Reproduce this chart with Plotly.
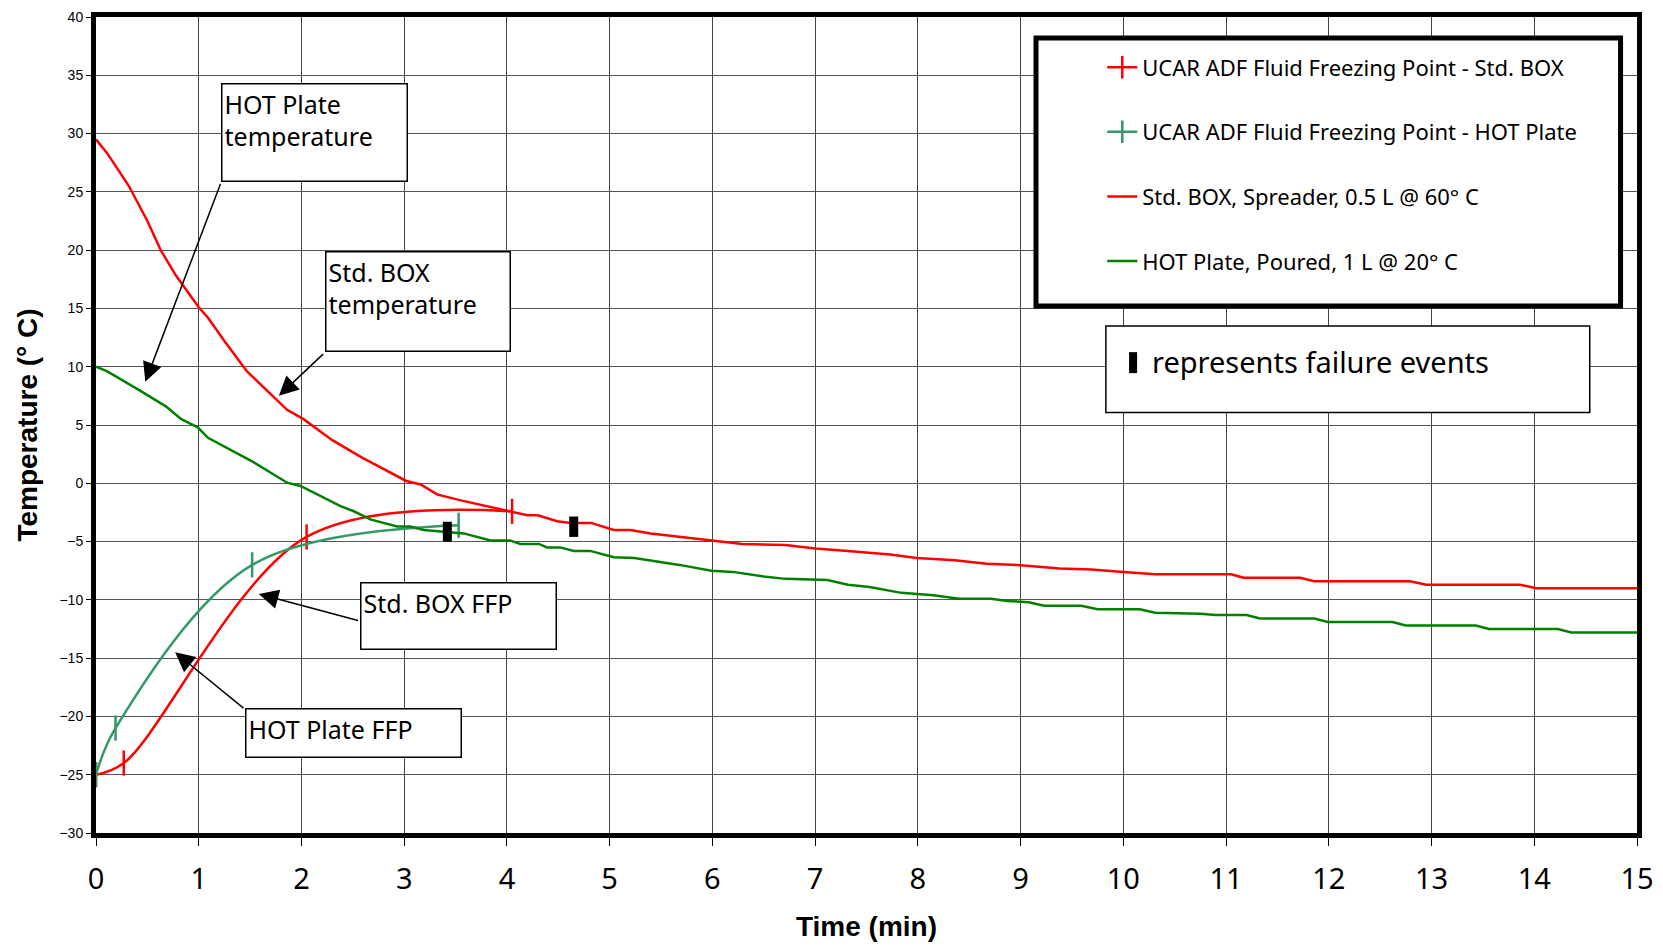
import plotly.graph_objects as go

# ---------------- data ----------------
box_time = [0, 0.11, 0.32, 0.5, 0.63, 0.78, 1.0, 1.09, 1.25, 1.47, 1.66, 1.86, 2.02, 2.17,
            2.30, 2.59, 3.02, 3.16, 3.32, 3.52, 4.04, 4.2, 4.3, 4.49, 4.62, 4.82, 5.04, 5.2,
            5.4, 5.68, 5.99, 6.29, 6.71, 7.0, 7.32, 7.73, 7.99, 8.36, 8.67, 8.97, 9.38, 9.69,
            10.0, 10.31, 10.75, 11.05, 11.17, 11.72, 11.86, 12.79, 12.95, 13.86, 14.02, 15.0]
box_temp = [29.5, 28.3, 25.5, 22.5, 20.0, 17.8, 15.1, 14.2, 12.2, 9.6, 8.0, 6.3, 5.5, 4.5,
            3.7, 2.2, 0.2, -0.1, -0.95, -1.4, -2.4, -2.75, -2.75, -3.26, -3.4, -3.4, -4.0, -4.0,
            -4.3, -4.6, -4.9, -5.2, -5.3, -5.6, -5.8, -6.1, -6.4, -6.6, -6.9, -7.0, -7.3, -7.4,
            -7.6, -7.8, -7.8, -7.8, -8.1, -8.1, -8.4, -8.4, -8.7, -8.7, -9.0, -9.0]

hot_time = [0, 0.11, 0.4, 0.68, 0.83, 0.99, 1.09, 1.51, 1.86, 1.99, 2.38, 2.51, 2.67, 2.93,
            3.06, 3.19, 3.58, 3.84, 4.03, 4.13, 4.31, 4.39, 4.52, 4.65, 4.81, 5.04, 5.24, 5.4,
            5.68, 5.99, 6.2, 6.5, 6.71, 7.12, 7.32, 7.53, 7.84, 8.15, 8.4, 8.71, 8.87, 9.08,
            9.23, 9.59, 9.75, 10.16, 10.31, 10.75, 10.9, 11.2, 11.33, 11.86, 11.99, 12.62,
            12.75, 13.43, 13.56, 14.23, 14.36, 15.0]
hot_temp = [10.0, 9.6, 8.1, 6.6, 5.5, 4.8, 3.9, 1.93, 0.05, -0.23, -1.96, -2.4, -3.1, -3.7,
            -3.7, -4.0, -4.3, -4.9, -4.9, -5.2, -5.2, -5.5, -5.5, -5.8, -5.8, -6.35, -6.4, -6.6,
            -7.0, -7.5, -7.6, -8.0, -8.2, -8.3, -8.7, -8.9, -9.4, -9.6, -9.9, -9.9, -10.1, -10.2,
            -10.5, -10.5, -10.8, -10.8, -11.1, -11.2, -11.3, -11.3, -11.6, -11.6, -11.9, -11.9,
            -12.2, -12.2, -12.5, -12.5, -12.8, -12.8]

box_ffp_time = [0, 0.27, 2.05, 4.05]
box_ffp_temp = [-25, -24, -4.6, -2.4]
hot_ffp_time = [0, 0.19, 1.52, 3.53]
hot_ffp_temp = [-25, -21, -7.0, -3.6]

fail_time = [3.42, 4.65]
fail_top = [-3.3, -2.85]
fail_bottom = [-5.0, -4.6]

x_ticks = list(range(0, 16))
y_ticks = list(range(-30, 41, 5))

names = ["UCAR ADF Fluid Freezing Point - Std. BOX",
         "UCAR ADF Fluid Freezing Point - HOT Plate",
         "Std. BOX, Spreader, 0.5 L @ 60° C",
         "HOT Plate, Poured, 1 L @ 20° C"]

RED = "#ff0000"
TEAL = "#339966"
GREEN = "#008000"

fig = go.Figure()

fig.add_trace(go.Scatter(x=box_ffp_time, y=box_ffp_temp, name=names[0], mode="lines+markers",
                         line=dict(color=RED, width=2.5, shape="spline", smoothing=1),
                         marker=dict(symbol="line-ns", size=18, line=dict(color=RED, width=2.5)),
                         legendgroup="a"))
fig.add_trace(go.Scatter(x=hot_ffp_time, y=hot_ffp_temp, name=names[1], mode="lines+markers",
                         line=dict(color=TEAL, width=2.5, shape="spline", smoothing=1),
                         marker=dict(symbol="line-ns", size=18, line=dict(color=TEAL, width=2.5)),
                         legendgroup="b"))
fig.add_trace(go.Scatter(x=box_time, y=box_temp, name=names[2], mode="lines",
                         line=dict(color=RED, width=2.5), legendgroup="c"))
fig.add_trace(go.Scatter(x=hot_time, y=hot_temp, name=names[3], mode="lines",
                         line=dict(color=GREEN, width=2.5), legendgroup="d"))

fx, fy = [], []
for t, a, b in zip(fail_time, fail_top, fail_bottom):
    fx += [t, t, None]
    fy += [a, b, None]
fig.add_trace(go.Scatter(x=fx, y=fy, mode="lines", line=dict(color="black", width=9),
                         showlegend=False, hoverinfo="skip"))

FONT = "Noto Sans"

def textbox(x, y, w, h, text, size):
    fig.add_annotation(x=x, y=y, xref="x", yref="y", xanchor="left", yanchor="top",
                       text=text, showarrow=False, align="left", valign="top",
                       width=w - 8, height=h - 8, borderpad=2, borderwidth=1.5,
                       bordercolor="black", bgcolor="white",
                       font=dict(family=FONT, size=size, color="black"))

def arrow(tx, ty, hx, hy):
    fig.add_annotation(x=hx, y=hy, ax=tx, ay=ty, xref="x", yref="y", axref="x", ayref="y",
                       text="", showarrow=True, arrowhead=2, arrowsize=2.6, arrowwidth=1.5,
                       arrowcolor="black", standoff=0, startstandoff=0)

arrow(1.217, 25.8, 0.48, 8.7)
arrow(2.225, 11.2, 1.78, 7.5)
arrow(2.565, -11.8, 1.585, -9.5)
arrow(1.45, -19.4, 0.77, -14.5)

textbox(1.217, 34.36, 188, 100, "HOT Plate<br>temperature", 25)
textbox(2.229, 19.91, 187, 102, "Std. BOX<br>temperature", 25)
textbox(2.57, -8.46, 198, 69, "Std. BOX FFP", 25)
textbox(1.45, -19.3, 218, 51, "HOT Plate FFP", 25)

# failure-events note: frame, bar icon, text
fig.add_shape(type="rect", xref="x", yref="y", x0=9.83, x1=14.54, y0=6.07, y1=13.5,
              fillcolor="white", line=dict(color="black", width=1.5), layer="above")
fig.add_shape(type="rect", xref="x", yref="y", x0=10.056, x1=10.134, y0=9.45, y1=11.25,
              fillcolor="black", line=dict(width=0), layer="above")
fig.add_annotation(x=10.26, y=10.45, xref="x", yref="y", xanchor="left", yanchor="middle",
                   text="represents failure events", showarrow=False,
                   font=dict(family=FONT, size=29, color="black"))

# legend frame
fig.add_shape(type="rect", xref="x", yref="y", x0=9.15, x1=14.84, y0=15.2, y1=38.2,
              fillcolor="white", line=dict(color="black", width=5), layer="above")

# the page adds an 8 px body margin, so the figure is sized to fit inside it
fig.update_layout(
    width=1647, height=934,
    margin=dict(l=88, r=18, t=9, b=109),
    paper_bgcolor="white", plot_bgcolor="white",
    showlegend=True,
    legend=dict(x=0.653, y=0.964, xanchor="left", yanchor="top",
                bgcolor="rgba(0,0,0,0)", borderwidth=0, traceorder="grouped",
                tracegroupgap=33, font=dict(family=FONT, size=22, color="black")),
    xaxis=dict(range=[0, 15], tickvals=x_ticks, ticks="outside", ticklen=8, tickcolor="black",
               showgrid=True, gridcolor="#444", gridwidth=1, zeroline=False, automargin=False,
               showline=True, linecolor="black", linewidth=5, mirror=True,
               ticklabelstandoff=8,
               tickfont=dict(family=FONT, size=29, color="black"),
               title=dict(text="<b>Time (min)</b>", standoff=38,
                          font=dict(family="Liberation Sans", size=28, color="black"))),
    yaxis=dict(range=[-30, 40], tickvals=y_ticks, ticks="outside", ticklen=5, tickcolor="black",
               showgrid=True, gridcolor="#555", gridwidth=1, zeroline=False, automargin=False,
               showline=True, linecolor="black", linewidth=5, mirror=True,
               ticklabeloverflow="allow",
               tickfont=dict(family="Liberation Sans", size=14, color="black"),
               title=dict(text="<b>Temperature (° C)</b>", standoff=15,
                          font=dict(family="Liberation Sans", size=28, color="black"))),
)

fig.write_html("out.html")
